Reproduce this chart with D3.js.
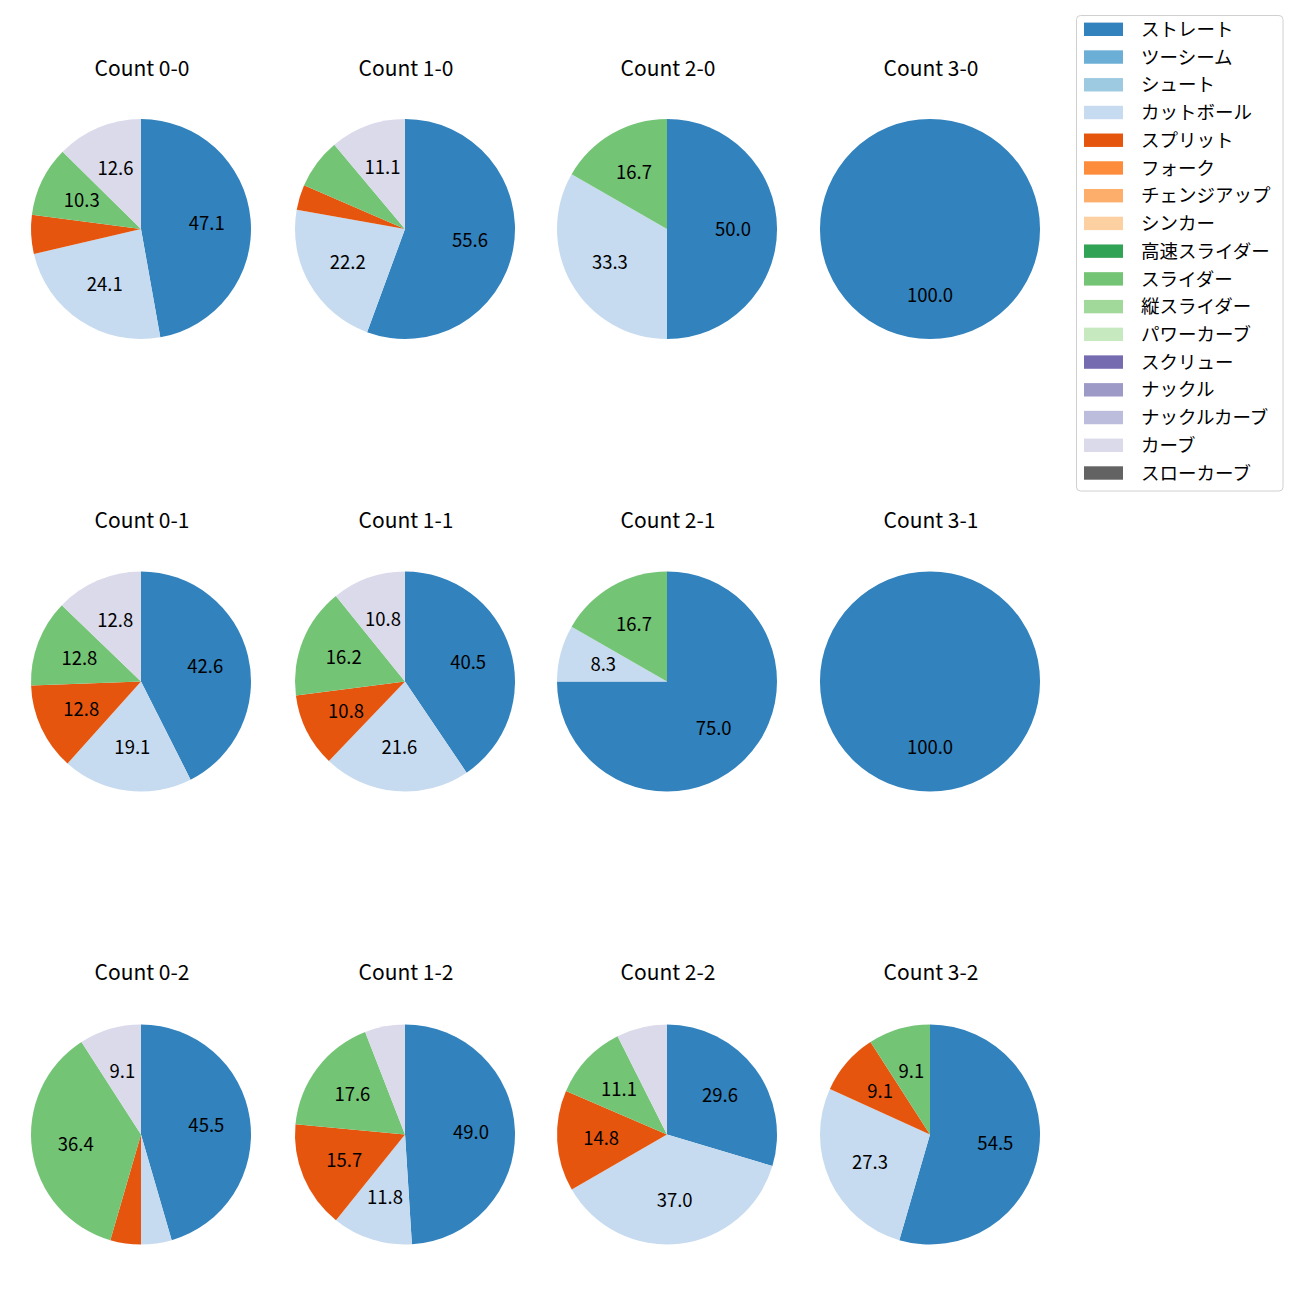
<!DOCTYPE html>
<html>
<head>
<meta charset="utf-8">
<script src="https://cdn.jsdelivr.net/npm/d3@7"></script>
<style>
  body { margin: 0; background: #fff; }
  svg { display: block; }
  text { font-family: "Noto Sans CJK JP", "Noto Sans", sans-serif; fill: #000; }
</style>
</head>
<body>
<svg id="chart" width="1300" height="1300"></svg>
<script>
// ---- data ----
const counts = ["Count 0-0", "Count 1-0", "Count 2-0", "Count 3-0",
                "Count 0-1", "Count 1-1", "Count 2-1", "Count 3-1",
                "Count 0-2", "Count 1-2", "Count 2-2", "Count 3-2"];

const pitchTypes = ["ストレート", "ツーシーム", "シュート", "カットボール", "スプリット", "フォーク",
                    "チェンジアップ", "シンカー", "高速スライダー", "スライダー", "縦スライダー",
                    "パワーカーブ", "スクリュー", "ナックル", "ナックルカーブ", "カーブ", "スローカーブ"];

// percentage per count (order follows `counts`)
const straight = [47.1, 55.6, 50.0, 100.0, 42.6, 40.5, 75.0, 100.0, 45.5, 49.0, 29.6, 54.5];
const cutter   = [24.1, 22.2, 33.3, 0, 19.1, 21.6, 8.3, 0, 4.5, 11.8, 37.0, 27.3];
const splitter = [5.7, 3.7, 0, 0, 12.8, 10.8, 0, 0, 4.5, 15.7, 14.8, 9.1];
const slider   = [10.3, 7.4, 16.7, 0, 12.8, 16.2, 16.7, 0, 36.4, 17.6, 11.1, 9.1];
const curve    = [12.6, 11.1, 0, 0, 12.8, 10.8, 0, 0, 9.1, 5.9, 7.4, 0];

const seriesByType = {
  "ストレート": straight,
  "カットボール": cutter,
  "スプリット": splitter,
  "スライダー": slider,
  "カーブ": curve
};

// ---- styles ----
const colors = ["#3182bd", "#6baed6", "#9ecae1", "#c6dbef", "#e6550d", "#fd8d3c",
                "#fdae6b", "#fdd0a2", "#31a354", "#74c476", "#a1d99b", "#c7e9c0",
                "#756bb1", "#9e9ac8", "#bcbddc", "#dadaeb", "#636363"];
const color = d3.scaleOrdinal().domain(pitchTypes).range(colors);

const svg = d3.select("#chart");
const colX = [141, 405, 667, 930];
const rowY = [229, 681.5, 1134.5];
const titleY = [76, 528, 980];
const R = 110;
const labelFs = 18.5;

const pie = d3.pie().sort(null).value(d => d.value).startAngle(0).endAngle(2 * Math.PI);
const arc = d3.arc().innerRadius(0).outerRadius(R);
const labelArc = d3.arc().innerRadius(R * 0.6).outerRadius(R * 0.6);

counts.forEach((title, i) => {
  const col = i % 4, row = Math.floor(i / 4);
  const data = pitchTypes.map(t => ({ type: t, value: seriesByType[t] ? seriesByType[t][i] : 0 }))
                         .filter(d => d.value > 0);
  const g = svg.append("g").attr("transform", `translate(${colX[col]},${rowY[row]})`);
  const arcs = pie(data);
  g.selectAll("path").data(arcs).join("path")
    .attr("d", arc)
    .attr("fill", d => color(d.data.type));
  g.selectAll("text.lbl").data(arcs.filter(d => d.data.value >= 8)).join("text")
    .attr("class", "lbl")
    .attr("x", d => labelArc.centroid(d)[0])
    .attr("y", d => labelArc.centroid(d)[1] + labelFs * 0.36)
    .attr("text-anchor", "middle")
    .style("font-size", labelFs + "px")
    .text(d => d.data.value.toFixed(1));
  svg.append("text")
    .attr("x", colX[col] + 1).attr("y", titleY[row])
    .attr("text-anchor", "middle")
    .style("font-size", "21px")
    .text(title);
});

// ---- legend ----
const lg = svg.append("g");
lg.append("rect")
  .attr("x", 1076.5).attr("y", 15.5).attr("width", 206.5).attr("height", 475.5)
  .attr("rx", 4).attr("ry", 4)
  .attr("fill", "#fff").attr("stroke", "#d0d0d0").attr("stroke-width", 1);
const ly = d3.scalePoint().domain(pitchTypes).range([29.3, 473]);
pitchTypes.forEach(t => {
  lg.append("rect")
    .attr("x", 1084).attr("y", ly(t) - 6.7).attr("width", 39).attr("height", 13.4)
    .attr("fill", color(t));
  lg.append("text")
    .attr("x", 1141).attr("y", ly(t) + 18.5 * 0.36)
    .style("font-size", "18.5px")
    .text(t);
});
</script>
</body>
</html>
